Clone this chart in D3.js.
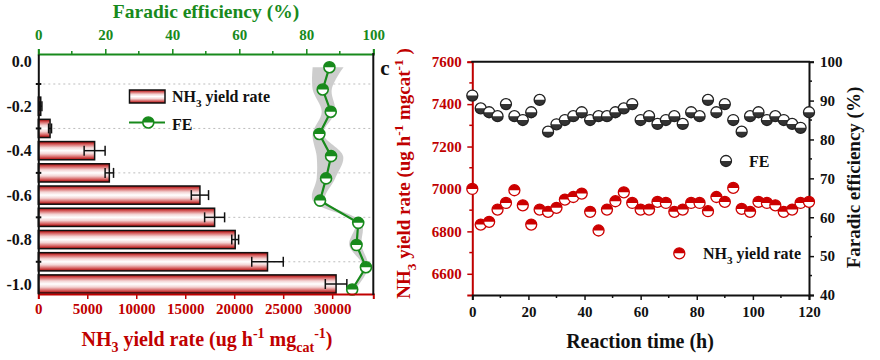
<!DOCTYPE html>
<html><head><meta charset="utf-8">
<script src="https://cdn.jsdelivr.net/npm/d3@7"></script>
<style>
body{margin:0;background:#fff}
svg{display:block}
text{font-family:'Liberation Serif','Times New Roman',serif;font-weight:bold}
</style>
</head><body>
<svg id="chart" width="880" height="360"></svg>
<script>
// ---------------- data: panel (left) ----------------
const potentials = [0.0,-0.1,-0.2,-0.3,-0.4,-0.5,-0.6,-0.7,-0.8,-0.9,-1.0];
const barPotentials = [-0.2,-0.3,-0.4,-0.5,-0.6,-0.7,-0.8,-0.9,-1.0];
const nh3Yield = [250,1200,5750,7250,16500,18000,20100,23400,30400];
const nh3Err   = [120,150,1070,430,880,1020,350,1610,1100];
const feValues = [86.9,84.9,87.3,83.9,87.4,85.9,84.1,95.5,95.0,97.8,93.7];
const feLow    = [81.9,81.9,84.6,81.9,83.1,83.1,81.9,94.5,92.8,97.0,93.0];
const feHigh   = [91.1,87.6,88.6,85.1,91.0,88.6,85.6,96.5,96.5,98.5,94.5];
const potentialTicks = [0,-0.2,-0.4,-0.6,-0.8,-1.0];
const potentialMinor = [-0.1,-0.3,-0.5,-0.7,-0.9];
const feTicks  = [0,20,40,60,80,100];
const feMinor  = [10,30,50,70,90];
const yieldTicks = [0,5000,10000,15000,20000,25000,30000];

// ---------------- data: panel c (stability) ----------------
const time = [0,3,6,9,12,15,18,21,24,27,30,33,36,39,42,45,48,51,54,57,60,63,66,69,72,75,78,81,84,87,90,93,96,99,102,105,108,111,114,117,120];
const stabFE = [91.3,88.0,87.0,86.0,89.1,86.0,85.0,87.0,90.2,82.0,83.9,85.0,86.0,87.0,85.0,86.0,86.0,87.0,88.0,89.1,85.0,86.0,84.0,85.0,86.0,84.0,87.0,86.0,90.2,87.0,89.1,85.0,82.0,86.0,87.0,85.0,86.0,85.0,84.0,83.0,87.0];
const stabNH3 = [7000,6832,6845,6903,6934,6994,6923,6832,6903,6892,6911,6950,6962,6978,6892,6804,6903,6942,6984,6934,6903,6903,6939,6934,6892,6903,6934,6934,6895,6962,6939,7005,6906,6892,6939,6934,6923,6892,6903,6934,6939];
const timeTicks = [0,20,40,60,80,100,120];
const timeMinor = [10,30,50,70,90,110];
const rateTicks = [6600,6800,7000,7200,7400,7600];
const rateMinor = [6700,6900,7100,7300,7500];
const effTicks = [40,50,60,70,80,90,100];
const effMinor = [45,55,65,75,85,95];

// ---------------- styles ----------------
const RED = "#c00000", GREEN = "#188a1c", DARK = "#333333";
const svg = d3.select("#chart");

const defs = svg.append("defs");
const grad = defs.append("linearGradient").attr("id","barGrad")
  .attr("x1",0).attr("y1",0).attr("x2",0).attr("y2",1);
[[0,"#a80000"],[0.14,"#d45a5a"],[0.33,"#f3d3d3"],[0.5,"#ffffff"],[0.67,"#f3d3d3"],[0.86,"#d45a5a"],[1,"#a80000"]]
  .forEach(([o,c]) => grad.append("stop").attr("offset",o).attr("stop-color",c));

function halfMarker(g, cx, cy, r, topFill, bottomFill, stroke, sw){
  g.append("circle").attr("cx",cx).attr("cy",cy).attr("r",r).attr("fill",bottomFill);
  g.append("path").attr("d",`M${cx-r},${cy}A${r},${r} 0 0 1 ${cx+r},${cy}Z`).attr("fill",topFill);
  g.append("circle").attr("cx",cx).attr("cy",cy).attr("r",r).attr("fill","none")
    .attr("stroke",stroke).attr("stroke-width",sw);
}

function richText(sel, parts, fs){
  let off = 0;
  parts.forEach(([t,type]) => {
    let target = 0, size = fs;
    if(type==="sub"){ target = fs*0.32; size = fs*0.7; }
    if(type==="sup"){ target = -fs*0.38; size = fs*0.7; }
    sel.append("tspan").attr("dy", target-off).attr("font-size", size).text(t);
    off = target;
  });
}

// =============== LEFT PANEL ===============
const L = {x0:38.3, x1:373.3, y0:54, y1:294};
const xNH = d3.scaleLinear().domain([0,34200]).range([L.x0,L.x1]);
const xFE = d3.scaleLinear().domain([0,100]).range([L.x0,L.x1]);
const yP  = d3.scaleLinear().domain([0.035,-1.045]).range([L.y0,L.y1]);
const yFE = d3.scaleLinear().domain([0.035,-1.045]).range([L.y0+5.5,L.y1+5.5]);

const gl = svg.append("g");
// gridlines
gl.selectAll("line.grid").data(potentialMinor).join("line")
  .attr("x1",L.x0).attr("x2",L.x1).attr("y1",d=>yP(d)).attr("y2",d=>yP(d))
  .attr("stroke","#bdbdbd").attr("stroke-width",1).attr("stroke-dasharray","2,3");

// FE band
const bandData = potentials.map((p,i)=>({p, lo:feLow[i], hi:feHigh[i]}));
gl.append("path").datum(bandData)
  .attr("d", d3.area().y(d=>yFE(d.p)).x0(d=>xFE(d.lo)).x1(d=>xFE(d.hi)).curve(d3.curveCatmullRom))
  .attr("fill","#c4c4c4").attr("opacity",0.85);

// bars
const barH = 0.082;
const barData = barPotentials.map((p,i)=>({p, v:nh3Yield[i], e:nh3Err[i]}));
gl.selectAll("rect.bar").data(barData).join("rect")
  .attr("x",xNH(0)).attr("y",d=>yP(d.p+barH/2))
  .attr("width",d=>xNH(d.v)-xNH(0)).attr("height",d=>yP(d.p-barH/2)-yP(d.p+barH/2))
  .attr("fill","url(#barGrad)").attr("stroke","#111").attr("stroke-width",1.5);
// error bars
const eb = gl.selectAll("g.eb").data(barData).join("g");
eb.append("line").attr("x1",d=>xNH(d.v-d.e)).attr("x2",d=>xNH(d.v+d.e))
  .attr("y1",d=>yP(d.p)).attr("y2",d=>yP(d.p)).attr("stroke","#111").attr("stroke-width",1.5);
eb.append("line").attr("x1",d=>xNH(d.v-d.e)).attr("x2",d=>xNH(d.v-d.e))
  .attr("y1",d=>yP(d.p)-5).attr("y2",d=>yP(d.p)+5).attr("stroke","#111").attr("stroke-width",1.5);
eb.append("line").attr("x1",d=>xNH(d.v+d.e)).attr("x2",d=>xNH(d.v+d.e))
  .attr("y1",d=>yP(d.p)-5).attr("y2",d=>yP(d.p)+5).attr("stroke","#111").attr("stroke-width",1.5);

// FE line + markers
const feData = potentials.map((p,i)=>({p, v:feValues[i]}));
gl.append("path").datum(feData)
  .attr("d", d3.line().x(d=>xFE(d.v)).y(d=>yFE(d.p)))
  .attr("fill","none").attr("stroke",GREEN).attr("stroke-width",2.2);
feData.forEach(d=>halfMarker(gl, xFE(d.v), yFE(d.p), 5.5, GREEN, "#fff", GREEN, 1.6));

// axes left panel
const topAx = gl.append("g").attr("transform",`translate(0,${L.y0})`)
  .call(d3.axisTop(xFE).tickValues(feTicks).tickSize(5).tickPadding(9).tickFormat(d3.format("d")));
topAx.select(".domain").attr("stroke",GREEN).attr("stroke-width",2);
topAx.selectAll(".tick line").attr("stroke",GREEN).attr("stroke-width",1.5);
topAx.selectAll("text").attr("fill",GREEN).attr("font-size",15);
gl.selectAll("line.feminor").data(feMinor).join("line")
  .attr("x1",d=>xFE(d)).attr("x2",d=>xFE(d)).attr("y1",L.y0).attr("y2",L.y0-3)
  .attr("stroke",GREEN).attr("stroke-width",1.5);

const botAx = gl.append("g").attr("transform",`translate(0,${L.y1})`)
  .call(d3.axisBottom(xNH).tickValues(yieldTicks).tickSize(5).tickPadding(4).tickFormat(d3.format("d")));
botAx.select(".domain").attr("stroke",RED).attr("stroke-width",2);
botAx.selectAll(".tick line").attr("stroke",RED).attr("stroke-width",1.5);
botAx.selectAll("text").attr("fill",RED).attr("font-size",15);

const leftAx = gl.append("g").attr("transform",`translate(${L.x0},0)`)
  .call(d3.axisLeft(yP).tickValues(potentialTicks).tickSize(0).tickPadding(6.5).tickFormat(d=>d.toFixed(1)));
leftAx.select(".domain").attr("stroke","#111").attr("stroke-width",2);
leftAx.selectAll("text").attr("fill","#111").attr("font-size",16);
gl.selectAll("line.pminor").data(potentialMinor).join("line")
  .attr("x1",L.x0-2.5).attr("x2",L.x0+3).attr("y1",d=>yP(d)).attr("y2",d=>yP(d))
  .attr("stroke","#111").attr("stroke-width",2);
gl.append("line").attr("x1",L.x1).attr("x2",L.x1).attr("y1",L.y0-1).attr("y2",L.y1+1)
  .attr("stroke","#111").attr("stroke-width",2);

// titles left
gl.append("text").attr("x",206).attr("y",18).attr("text-anchor","middle")
  .attr("fill",GREEN).attr("font-size",19.5).text("Faradic efficiency (%)");
richText(gl.append("text").attr("x",207).attr("y",346).attr("text-anchor","middle").attr("fill",RED),
  [["NH",""],["3","sub"],[" yield rate (ug h",""],["-1","sup"],[" mg",""],["cat","sub"],["-1","sup"],[")",""]], 20);

// legend left
gl.append("rect").attr("x",129.5).attr("y",90).attr("width",35.5).attr("height",13)
  .attr("fill","url(#barGrad)").attr("stroke","#111").attr("stroke-width",1.5);
richText(gl.append("text").attr("x",172).attr("y",102).attr("fill","#111"),
  [["NH",""],["3","sub"],[" yield rate",""]], 16);
gl.append("line").attr("x1",129).attr("x2",165).attr("y1",122.5).attr("y2",122.5)
  .attr("stroke",GREEN).attr("stroke-width",2.2);
halfMarker(gl, 148.3, 122.5, 5.5, GREEN, "#fff", GREEN, 1.6);
gl.append("text").attr("x",172).attr("y",130).attr("fill","#111").attr("font-size",16).text("FE");

gl.append("text").attr("x",385).attr("y",75).attr("text-anchor","middle")
  .attr("fill","#111").attr("font-size",21).text("c");

// =============== RIGHT PANEL ===============
const R = {x0:472.3, x1:809, y0:61.7, y1:295};
const xT = d3.scaleLinear().domain([0,120]).range([R.x0,R.x1]);
const yN = d3.scaleLinear().domain([6500,7600]).range([R.y1,R.y0]);
const yF = d3.scaleLinear().domain([40,100]).range([R.y1,R.y0]);
const gr = svg.append("g");

const lAx = gr.append("g").attr("transform",`translate(${R.x0},0)`)
  .call(d3.axisLeft(yN).tickValues(rateTicks).tickSize(5).tickPadding(5.5).tickFormat(d3.format("d")));
lAx.select(".domain").attr("stroke",RED).attr("stroke-width",2);
lAx.selectAll(".tick line").attr("stroke",RED).attr("stroke-width",1.5);
lAx.selectAll("text").attr("fill",RED).attr("font-size",15);
gr.selectAll("line.rminor").data(rateMinor).join("line")
  .attr("x1",R.x0-3).attr("x2",R.x0).attr("y1",d=>yN(d)).attr("y2",d=>yN(d))
  .attr("stroke",RED).attr("stroke-width",1.5);

const rAx = gr.append("g").attr("transform",`translate(${R.x1},0)`)
  .call(d3.axisRight(yF).tickValues(effTicks).tickSize(5).tickPadding(6).tickFormat(d3.format("d")));
rAx.select(".domain").attr("stroke","#111").attr("stroke-width",2);
rAx.selectAll(".tick line").attr("stroke","#111").attr("stroke-width",1.5);
rAx.selectAll("text").attr("fill","#111").attr("font-size",15);
gr.selectAll("line.eminor").data(effMinor).join("line")
  .attr("x1",R.x1).attr("x2",R.x1+3).attr("y1",d=>yF(d)).attr("y2",d=>yF(d))
  .attr("stroke","#111").attr("stroke-width",1.5);

const bAx = gr.append("g").attr("transform",`translate(0,${R.y1})`)
  .call(d3.axisBottom(xT).tickValues(timeTicks).tickSize(5).tickPadding(6).tickFormat(d3.format("d")));
bAx.select(".domain").attr("stroke","#111").attr("stroke-width",2);
bAx.selectAll(".tick line").attr("stroke","#111").attr("stroke-width",1.5);
bAx.selectAll("text").attr("fill","#111").attr("font-size",15);
gr.selectAll("line.tminor").data(timeMinor).join("line")
  .attr("x1",d=>xT(d)).attr("x2",d=>xT(d)).attr("y1",R.y1).attr("y2",R.y1+3)
  .attr("stroke","#111").attr("stroke-width",1.5);
gr.append("line").attr("x1",R.x0-1).attr("x2",R.x1+1).attr("y1",R.y0).attr("y2",R.y0)
  .attr("stroke","#111").attr("stroke-width",2);

// points
time.forEach((t,i)=>{
  halfMarker(gr, xT(t), yN(stabNH3[i]), 5.5, "#cc0000", "#fff", "#cc0000", 1.3);
});
time.forEach((t,i)=>{
  halfMarker(gr, xT(t), yF(stabFE[i]), 5.5, "#fff", DARK, "#222", 1.3);
});

// legends right
halfMarker(gr, 726, 161, 5.5, "#fff", DARK, "#222", 1.3);
gr.append("text").attr("x",749).attr("y",166.5).attr("fill","#111").attr("font-size",16).text("FE");
halfMarker(gr, 679.3, 253.3, 5.5, "#cc0000", "#fff", "#cc0000", 1.3);
richText(gr.append("text").attr("x",703).attr("y",258.5).attr("fill","#111"),
  [["NH",""],["3","sub"],[" yield rate",""]], 16);

// titles right
gr.append("text").attr("x",640).attr("y",348).attr("text-anchor","middle")
  .attr("fill","#111").attr("font-size",20).text("Reaction time (h)");
richText(gr.append("text").attr("transform","translate(410,173.5) rotate(-90)")
  .attr("text-anchor","middle").attr("fill",RED),
  [["NH",""],["3","sub"],[" yield rate (ug h",""],["-1","sup"],[" mgcat",""],["-1","sup"],[" )",""]], 19);
gr.append("text").attr("transform","translate(859.5,177.5) rotate(-90)")
  .attr("text-anchor","middle").attr("fill","#111").attr("font-size",19).text("Faradic efficiency (%)");
</script>
</body></html>
